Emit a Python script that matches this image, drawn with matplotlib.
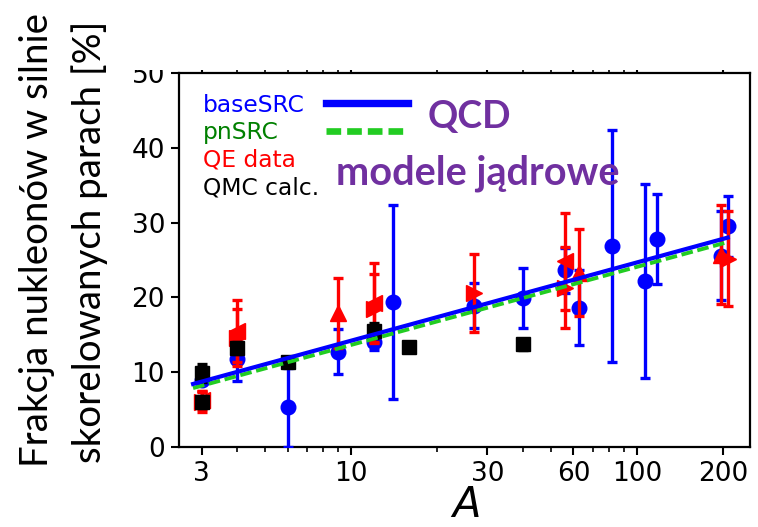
import matplotlib
matplotlib.use("Agg")
import matplotlib.pyplot as plt
from matplotlib.lines import Line2D
from matplotlib.patches import Rectangle
from matplotlib.ticker import FixedLocator, FixedFormatter, LogLocator, NullFormatter

# ---------------- data ----------------
base_A   = [3, 4, 6, 9, 12, 14, 27, 40, 56, 63, 82, 107, 118, 197, 208]
base_val = [8.9, 11.7, 5.3, 12.7, 14.0, 19.4, 18.9, 19.9, 23.6, 18.6, 26.9, 22.2, 27.8, 25.6, 29.5]
base_err = [0.5, 2.9, 5.3, 3.0, 1.0, 13.0, 3.0, 4.0, 3.0, 5.0, 15.5, 13.0, 6.0, 6.0, 4.1]

qe_up_A   = [3, 9, 63, 197]
qe_up_val = [6.2, 17.9, 23.3, 25.7]
qe_up_err = [1.2, 4.7, 5.8, 6.6]

qe_left_A   = [3, 4, 12, 56]
qe_left_val = [6.3, 15.5, 19.3, 24.8]
qe_left_err = [1.1, 4.2, 5.3, 6.5]

qe_right_A   = [3, 4, 12, 27, 56, 208]
qe_right_val = [6.0, 14.6, 18.5, 20.6, 21.3, 25.2]
qe_right_err = [1.3, 3.8, 4.6, 5.2, 5.4, 6.35]

qmc_A   = [3, 3, 4, 6, 12, 16, 40]
qmc_val = [9.85, 6.0, 13.2, 11.3, 15.5, 13.3, 13.7]
qmc_err = [1.2, 0.8, 0.8, 0.6, 1.0, 0.6, 0.7]

fit_A    = [2.8, 208]
base_fit = [8.4, 28.0]
pn_fit   = [7.85, 27.4]

x_ticks = [3, 10, 30, 60, 100, 200]
x_tick_labels = ["3", "10", "30", "60", "100", "200"]
y_ticks = [0, 10, 20, 30, 40, 50]

legend_labels = ["baseSRC", "pnSRC", "QE data", "QMC calc."]
legend_colors = ["#0000ff", "#008000", "#ff0000", "#000000"]

ylabel_lines = ["Frakcja nukleonów w silnie", "skorelowanych parach [%]"]
note_qcd = "QCD"
note_models = "modele jądrowe"

# ---------------- figure ----------------
W, H = 758, 527
fig = plt.figure(figsize=(W / 100, H / 100), dpi=100)
AX_L, AX_R, AX_T, AX_B = 179, 750, 73.3, 446.7
ax = fig.add_axes([AX_L / W, 1 - AX_B / H, (AX_R - AX_L) / W, (AX_B - AX_T) / H])
AW, AH = AX_R - AX_L, AX_B - AX_T

ax.set_xscale("log")
ax.set_xlim(2.5, 249)
ax.set_ylim(0, 50)

BLUE = "#0000ff"
RED = "#ff0000"
GREEN_LINE = "#22cc22"

ekw = dict(linestyle="none", elinewidth=2.4, capsize=3.5, capthick=2.4)
ax.errorbar(base_A, base_val, yerr=base_err, fmt="o", color=BLUE, ms=10.5, zorder=3, **ekw)
ax.errorbar(qe_up_A, qe_up_val, yerr=qe_up_err, fmt="^", color=RED, ms=11, zorder=4, **ekw)
ax.errorbar(qe_left_A, qe_left_val, yerr=qe_left_err, fmt="<", color=RED, ms=11, zorder=4, **ekw)
ax.errorbar(qe_right_A, qe_right_val, yerr=qe_right_err, fmt=">", color=RED, ms=11, zorder=4, **ekw)
ax.errorbar(qmc_A, qmc_val, yerr=qmc_err, fmt="s", color="black", ms=10.5, zorder=4.5, **ekw)

ax.plot(fit_A, pn_fit, color=GREEN_LINE, lw=2.8, dashes=(3, 1.2), zorder=5)
ax.plot(fit_A, base_fit, color=BLUE, lw=3.0, zorder=5.5)

# ticks
ax.xaxis.set_major_locator(FixedLocator(x_ticks))
ax.xaxis.set_major_formatter(FixedFormatter(x_tick_labels))
ax.xaxis.set_minor_locator(LogLocator(base=10, subs=range(2, 10)))
ax.xaxis.set_minor_formatter(NullFormatter())
ax.set_yticks(y_ticks)
ax.tick_params(axis="both", which="major", direction="out", length=6, width=1.5,
               labelsize=19, pad=4)
ax.tick_params(axis="x", which="both", top=True)
ax.tick_params(axis="x", which="minor", direction="out", length=3.5, width=1.2)
for s in ax.spines.values():
    s.set_linewidth(1.6)

ax.set_xlabel("$A$", fontsize=30, labelpad=-2)

# legend: text column (left aligned) + separate column of line handles
LEG_FS = 16.8
LEG_SP = 0.2
top_anchor = 1 - (93.5 - AX_T) / AH
txt_handles = [Line2D([], [], linestyle="none") for _ in legend_labels]
leg1 = ax.legend(txt_handles, legend_labels, labelcolor=legend_colors,
                 frameon=False, fontsize=LEG_FS, handlelength=0, handletextpad=0,
                 labelspacing=LEG_SP, borderpad=0, borderaxespad=0,
                 loc="upper left", bbox_to_anchor=((203.3 - AX_L) / AW, top_anchor))
ax.add_artist(leg1)
line_handles = [Line2D([], [], color=BLUE, lw=5.3),
                Line2D([], [], color=GREEN_LINE, lw=4.8, dashes=(2.2, 0.9))]
ax.legend(line_handles, [" ", " "], frameon=False, fontsize=LEG_FS,
          handlelength=3.5, handletextpad=0, labelspacing=LEG_SP, borderpad=0,
          borderaxespad=0, loc="upper left",
          bbox_to_anchor=((326 - AX_L) / AW, top_anchor))

# white cover imitating the cropped top of the original image
fig.add_artist(Rectangle((0, 1 - 70 / H), 1, 70 / H, transform=fig.transFigure,
                         facecolor="white", edgecolor="none", zorder=10))

PURPLE = "#7030a0"
fig.text(469.5 / W, 1 - 128.3 / H, note_qcd, color=PURPLE, fontsize=27,
         fontweight="bold", family="Lato", ha="center", va="baseline", zorder=11)
fig.text(478 / W, 1 - 185 / H, note_models, color=PURPLE, fontsize=28.5,
         fontweight="bold", family="Lato", ha="center", va="baseline", zorder=11)

t1 = fig.text(37 / W, 1 - 240 / H, ylabel_lines[0], rotation=90, fontsize=25,
              family="Lato", ha="center", va="center", zorder=11)
t2 = fig.text(90 / W, 1 - 241.5 / H, ylabel_lines[1], rotation=90, fontsize=25,
              family="Lato", ha="center", va="center", zorder=11)

# scale the y-label lines to the measured lengths
fig.canvas.draw()
r = fig.canvas.get_renderer()
for t, target in ((t1, 454.0), (t2, 443.0)):
    h = t.get_window_extent(r).height
    t.set_fontsize(t.get_fontsize() * target / h)

fig.savefig("out.png", dpi=100)
